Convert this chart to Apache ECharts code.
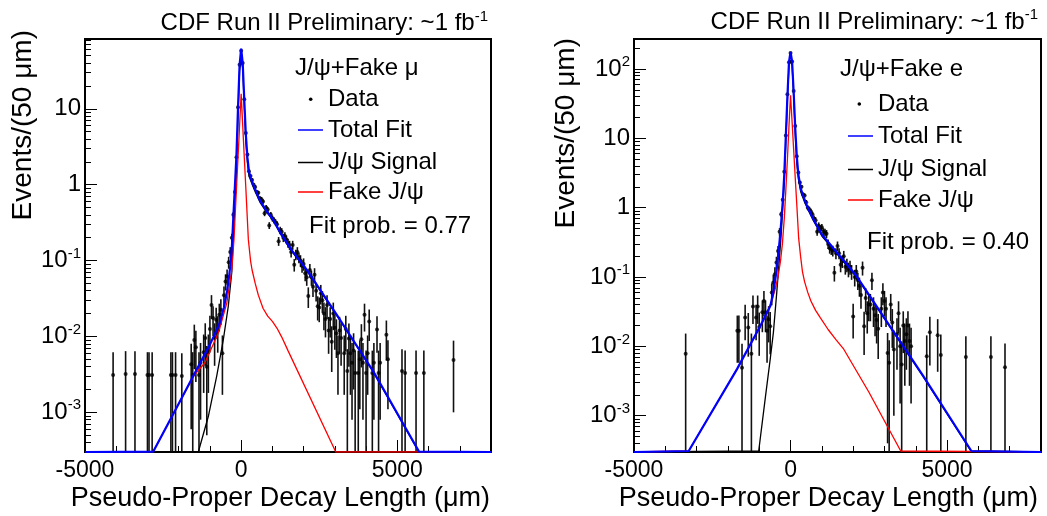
<!DOCTYPE html>
<html><head><meta charset="utf-8">
<script src="https://cdn.jsdelivr.net/npm/echarts@6/dist/echarts.min.js"></script>
<style>html,body{margin:0;padding:0;background:#fff}#c{width:1047px;height:516px}</style>
</head><body><div id="c"></div>
<script>
// ---------- axes ----------
const X_MIN = -5000, X_MAX = 8000;
const Y_MIN = 3e-4;
const Y_MAX_MU = 83, Y_MAX_E = 270;
const X_MAJOR = [-5000, 0, 5000];
const X_MINOR = [-4000, -3000, -2000, -1000, 1000, 2000, 3000, 4000, 6000, 7000];
const Y_MAJOR_MU = [1e-3, 1e-2, 1e-1, 1, 10];
const Y_MAJOR_E = [1e-3, 1e-2, 1e-1, 1, 10, 100];
const Y_MINOR = [4e-4,5e-4,6e-4,7e-4,8e-4,9e-4, 2e-3,3e-3,4e-3,5e-3,6e-3,7e-3,8e-3,9e-3,
  0.02,0.03,0.04,0.05,0.06,0.07,0.08,0.09, 0.2,0.3,0.4,0.5,0.6,0.7,0.8,0.9,
  2,3,4,5,6,7,8,9, 20,30,40,50,60,70,80,90, 200];

// ---------- J/psi + fake mu : data ----------
const muX = [-4100,-3700,-3400,-3000,-2950,-2850,-2250,-2200,-2100,-1900,-1600,-1550,-1500,-1450,-1350,-1300,-1200,-1150,-1100,-1050,-1000,-950,-900,-850,-800,-750,-700,-650,-600,-550,-500,-450,-400,-350,-300,-250,-200,-150,-100,-50,0,50,100,150,200,
  250,300,350,400,450,500,550,600,650,700,750,800,850,900,950,1000,1050,1100,1150,1200,1250,1300,1350,1400,1450,1500,1550,1600,1650,1700,1750,1800,1850,1900,1950,2000,2050,2100,2150,2200,2250,2300,2350,2400,2450,2500,2550,2600,2650,2700,2750,2800,2850,2900,2950,3000,3050,3100,3150,3200,3300,3350,3400,3450,3500,3550,3600,3650,3750,3800,3850,3900,3950,4000,4050,4100,4200,4250,4350,4400,4450,4650,4700,5150,5250,5600,5850,6800];
const muY = [0.0031,0.0032,0.0032,0.0031,0.0031,0.0031,0.0031,0.0031,0.0031,0.003,0.0043,0.0031,0.009,0.0072,0.0031,0.0045,0.0062,0.0095,0.004,0.0062,0.0125,0.026,0.0175,0.0095,0.0166,0.0123,0.0193,0.0225,0.006,0.035,0.053,0.062,0.095,0.13,0.2,0.4,0.8,2.3,10.5,38,58,40,13.3,4.8,2.5,
  1.5,1.3,1.15,1.0,0.93,0.8,0.78,0.66,0.64,0.6,0.42,0.5,0.47,0.29,0.4,0.36,0.34,0.32,0.3,0.18,0.25,0.24,0.2,0.21,0.19,0.17,0.16,0.13,0.16,0.088,0.12,0.13,0.11,0.1,0.085,0.09,0.068,0.06,0.034,0.075,0.06,0.045,0.065,0.04,0.025,0.024,0.037,0.03,0.02,0.017,0.026,0.012,0.017,0.0085,0.02,0.013,0.011,0.006,0.012,0.0095,0.006,0.0125,0.0035,0.0094,0.006,0.0045,0.0065,0.0033,0.0033,0.005,0.0092,0.0045,0.0193,0.0033,0.006,0.0157,0.0033,0.0045,0.0123,0.0033,0.0045,0.0105,0.005,0.0035,0.0033,0.0033,0.0033,0.0049];
const muErr = [0.0031,0.0032,0.0032,0.0031,0.0031,0.0031,0.0031,0.0031,0.0031,0.003,0.0037,0.0031,0.0053,0.0047,0.0031,0.0037,0.0044,0.0054,0.0035,0.0044,0.0062,0.009,0.0074,0.0054,0.0072,0.0062,0.0077,0.0084,0.0043,0.0104,0.0128,0.0139,0.017,0.02,0.025,0.035,0.05,0.085,0.18,0.34,0.42,0.35,0.2,0.12,0.088,
  0.068,0.063,0.06,0.056,0.054,0.05,0.049,0.045,0.045,0.043,0.036,0.039,0.038,0.03,0.035,0.033,0.032,0.031,0.03,0.024,0.028,0.027,0.025,0.025,0.024,0.023,0.022,0.02,0.022,0.0165,0.019,0.02,0.018,0.0176,0.016,0.0167,0.0145,0.0136,0.0103,0.0152,0.0136,0.0118,0.0142,0.0111,0.0088,0.0086,0.0107,0.0096,0.0079,0.0073,0.009,0.0061,0.0073,0.0051,0.0079,0.0063,0.0058,0.0043,0.0061,0.0054,0.0043,0.0062,0.0033,0.0054,0.0043,0.0037,0.0045,0.0032,0.0032,0.0039,0.0053,0.0037,0.0077,0.0032,0.0043,0.007,0.0032,0.0037,0.0062,0.0032,0.0037,0.0057,0.0039,0.0033,0.0032,0.0032,0.0032,0.0039];

// ---------- J/psi + fake mu : fit curves ----------
const muTotal = [[-5000,3e-4],[-2813,3.04e-4],[-2000,0.0013],[-1500,0.0032],[-1000,0.0078],[-700,0.0145],[-550,0.024],[-450,0.04],[-380,0.065],[-330,0.1],[-290,0.17],[-250,0.38],[-200,0.95],[-150,2.5],[-100,10.5],[-50,38],[0,62],[50,40],[100,13],[150,4.6],[200,2.3],[250,1.5],[300,1.25],[400,0.97],[600,0.62],[800,0.46],[1029,0.345],[1244,0.237],[1600,0.14],[2099,0.0757],[3165,0.0166],[4231,0.00346],[5695,3.04e-4],[8000,3e-4]];
const muSignal = [[-5000,3e-4],[-1372,3e-4],[-1052,0.00088],[-783,0.003],[-572,0.009],[-412,0.025],[-300,0.07],[-250,0.2],[-200,0.6],[-150,1.6],[-100,8.2],[-50,32],[0,46],[50,34],[100,10.7],[150,3.7],[200,1.95],[250,1.3],[300,1.15],[400,0.9],[600,0.59],[800,0.44],[1029,0.335],[1244,0.23],[1600,0.135],[2099,0.074],[3165,0.0163],[4231,0.0034],[5690,3e-4],[8000,3e-4]];
const muFake = [[-5000,3e-4],[-2813,3.04e-4],[-2000,0.0013],[-1500,0.0031],[-1160,0.0045],[-730,0.0111],[-460,0.0275],[-300,0.076],[-230,0.19],[-200,0.34],[-150,0.9],[-100,2.3],[-50,6],[0,15.8],[50,6],[100,2.3],[150,0.9],[200,0.34],[230,0.19],[300,0.1],[350,0.075],[450,0.05],[550,0.035],[700,0.0235],[850,0.0185],[1000,0.0158],[1150,0.0128],[1300,0.0098],[1500,0.0065],[3030,3e-4],[8000,3e-4]];

// ---------- J/psi + fake e : data ----------
const eX = [-3350,-1700,-1650,-1550,-1450,-1350,-1250,-1200,-1100,-1050,-1000,-900,-850,-800,-750,-700,-650,-600,-550,-500,-450,-400,-350,-300,-250,-200,-150,-100,-50,0,50,100,150,
  200,250,300,350,400,450,500,550,600,650,700,750,800,850,900,950,1000,1050,1100,1150,1200,1250,1300,1350,1400,1450,1500,1550,1600,1650,1700,1750,1800,1850,1900,1950,2000,2050,2100,2150,2200,2250,2300,2350,2400,2450,2500,2550,2600,2650,2700,2750,2800,2900,2950,3000,3050,3100,3150,3200,3250,3300,3400,3450,3500,3550,3600,3650,3700,3750,3800,3850,4350,4450,4700,4800,5600,6400,6850];
const eY = [0.0078,0.0168,0.0168,0.0049,0.026,0.0187,0.0078,0.0376,0.026,0.0376,0.019,0.031,0.045,0.031,0.0168,0.0247,0.0195,0.06,0.083,0.11,0.162,0.238,0.45,0.8,1.3,3.3,11,43,125,170,128,48,15,
  5.5,3.2,2.3,2.0,1.55,1.5,1.2,1.0,0.95,0.88,0.8,0.7,0.66,0.45,0.55,0.5,0.52,0.45,0.44,0.42,0.3,0.26,0.25,0.24,0.115,0.22,0.28,0.22,0.15,0.17,0.2,0.14,0.15,0.13,0.14,0.12,0.027,0.1,0.12,0.09,0.075,0.055,0.136,0.0195,0.05,0.03,0.04,0.04,0.09,0.035,0.028,0.024,0.018,0.035,0.06,0.045,0.035,0.008,0.0058,0.04,0.022,0.009,0.015,0.03,0.01,0.0055,0.02,0.012,0.015,0.02,0.012,0.01,0.0072,0.016,0.0145,0.0075,0.007,0.007,0.005];
const eErr = [0.0075,0.011,0.011,0.006,0.0137,0.0116,0.0075,0.0165,0.0137,0.0165,0.0117,0.015,0.018,0.015,0.011,0.0133,0.0118,0.021,0.0244,0.028,0.034,0.041,0.057,0.076,0.097,0.154,0.28,0.56,0.95,1.1,0.96,0.59,0.33,
  0.2,0.15,0.13,0.12,0.105,0.1,0.093,0.085,0.083,0.08,0.076,0.071,0.069,0.057,0.063,0.06,0.061,0.057,0.056,0.055,0.046,0.043,0.042,0.042,0.029,0.04,0.045,0.04,0.033,0.035,0.038,0.032,0.033,0.031,0.032,0.029,0.014,0.027,0.029,0.025,0.023,0.02,0.031,0.012,0.019,0.0147,0.017,0.017,0.025,0.016,0.014,0.013,0.0114,0.016,0.021,0.018,0.016,0.0076,0.0065,0.017,0.0125,0.008,0.0104,0.0147,0.0085,0.0063,0.012,0.0093,0.0104,0.012,0.0093,0.0085,0.0072,0.0107,0.0102,0.0073,0.007,0.007,0.006];

// ---------- J/psi + fake e : fit curves ----------
const eTotal = [[-5000,3e-4],[-3253,3.1e-4],[-1710,0.0047],[-963,0.0198],[-643,0.0384],[-550,0.06],[-450,0.12],[-400,0.19],[-350,0.33],[-300,0.6],[-250,1.2],[-200,3.0],[-150,11],[-100,40],[-50,125],[0,176],[50,128],[100,46],[150,14],[200,5.5],[250,3.0],[324,1.9],[450,1.3],[530,1.05],[700,0.72],[1000,0.41],[1500,0.22],[2103,0.104],[3167,0.0198],[4231,0.00378],[5777,3.1e-4],[8000,3e-4]];
const eSignal = [[-5000,3e-4],[-1017,3.1e-4],[-800,0.0019],[-650,0.0065],[-548,0.0158],[-440,0.06],[-350,0.2],[-300,0.4],[-250,1.0],[-200,2.2],[-150,9],[-100,35],[-50,110],[0,134],[50,111],[100,40],[150,11.5],[200,4.4],[250,2.6],[324,1.7],[450,1.2],[530,1.0],[700,0.69],[1000,0.39],[1500,0.21],[2103,0.1],[3167,0.0192],[4231,0.0037],[5760,3.1e-4],[8000,3e-4]];
const eFake = [[-5000,3e-4],[-3253,3.1e-4],[-1710,0.0047],[-963,0.0195],[-750,0.03],[-600,0.045],[-480,0.07],[-400,0.1],[-320,0.17],[-260,0.3],[-200,0.7],[-150,1.8],[-100,5],[-50,15],[0,41.7],[50,17],[100,6.8],[150,2.7],[200,1.1],[260,0.36],[320,0.2],[380,0.12],[450,0.085],[550,0.06],[650,0.045],[800,0.033],[950,0.026],[1200,0.0175],[1450,0.0125],[1700,0.0091],[2500,0.0022],[3520,3.1e-4],[8000,3e-4]];

// ---------- texts ----------
const HEADER = 'CDF Run II Preliminary: ~1 fb';
const HEADER_SUP = '-1';
const Y_TITLE = 'Events/(50 \u03bcm)';
const X_TITLE = 'Pseudo-Proper Decay Length (\u03bcm)';
const MU_LABELS = ['J/\u03c8+Fake \u03bc', 'Data', 'Total Fit', 'J/\u03c8 Signal', 'Fake J/\u03c8', 'Fit prob. = 0.77'];
const E_LABELS = ['J/\u03c8+Fake e', 'Data', 'Total Fit', 'J/\u03c8 Signal', 'Fake J/\u03c8', 'Fit prob. = 0.40'];

const FONT = '"Liberation Sans", Arial, Helvetica, sans-serif';
const BLUE = '#0000ff', RED = '#ff0000', BLACK = '#000000';
const LEG_FS = 24;

function rows(xs, ys, es) { return xs.map((x, i) => [x, ys[i], es[i]]); }

function yFmt(v) {
  const e = Math.round(Math.log10(v));
  if (e === 0) return '1';
  if (e === 1) return '10';
  return '{b|10}{s|' + e + '}';
}

const grids = [
  { left: 85, top: 39, width: 406, height: 413 },
  { left: 634, top: 39, width: 407, height: 413 }
].map(g => Object.assign(g, { show: true, borderColor: '#000', borderWidth: 2, backgroundColor: 'rgba(0,0,0,0)', containLabel: false }));

const xAxes = [], yAxes = [];
[0, 1].forEach(g => {
  xAxes.push({ gridIndex: g, type: 'value', position: 'bottom', min: X_MIN, max: X_MAX,
    axisLine: { show: false, onZero: false },
    axisTick: { show: true, inside: true, length: 12, customValues: X_MAJOR, lineStyle: { color: '#000', width: 1 } },
    axisLabel: { show: true, customValues: X_MAJOR, formatter: v => String(v), fontSize: 23, color: '#000', margin: 7, fontFamily: FONT },
    splitLine: { show: false } });
  xAxes.push({ gridIndex: g, type: 'value', position: 'bottom', min: X_MIN, max: X_MAX,
    axisLine: { show: false, onZero: false },
    axisTick: { show: true, inside: true, length: 6, customValues: X_MINOR, lineStyle: { color: '#000', width: 1 } },
    axisLabel: { show: false }, splitLine: { show: false } });
  const ymax = g === 0 ? Y_MAX_MU : Y_MAX_E;
  const ymaj = g === 0 ? Y_MAJOR_MU : Y_MAJOR_E;
  yAxes.push({ gridIndex: g, type: 'log', logBase: 10, position: 'left', min: Y_MIN, max: ymax,
    axisLine: { show: false, onZero: false },
    axisTick: { show: true, inside: true, length: 12, customValues: ymaj, lineStyle: { color: '#000', width: 1 } },
    axisLabel: { show: true, customValues: ymaj, formatter: yFmt, color: '#000', margin: 4, fontSize: 24, fontFamily: FONT,
      rich: { b: { fontSize: 24, fontFamily: FONT, color: '#000' }, s: { fontSize: 15, fontFamily: FONT, color: '#000', padding: [0, 0, 14, 0] } } },
    splitLine: { show: false } });
  yAxes.push({ gridIndex: g, type: 'log', logBase: 10, position: 'left', min: Y_MIN, max: ymax,
    axisLine: { show: false, onZero: false },
    axisTick: { show: true, inside: true, length: 6, customValues: Y_MINOR, lineStyle: { color: '#000', width: 1 } },
    axisLabel: { show: false }, splitLine: { show: false } });
});

function errSeries(g, data) {
  return { type: 'custom', xAxisIndex: g * 2, yAxisIndex: g * 2, data: data, z: 2, clip: true, silent: true,
    encode: { x: 0, y: 1 },
    renderItem: function (params, api) {
      const x = api.value(0), y = api.value(1), e = api.value(2);
      const lo = Math.max(y - e, Y_MIN);
      const p1 = api.coord([x, y + e]);
      const p2 = api.coord([x, lo]);
      return { type: 'line', shape: { x1: p1[0], y1: p1[1], x2: p2[0], y2: p2[1] },
        style: { stroke: '#111', lineWidth: 1.6 } };
    } };
}
function ptSeries(g, data) {
  return { type: 'scatter', xAxisIndex: g * 2, yAxisIndex: g * 2, data: data.map(r => [r[0], r[1]]),
    symbol: 'circle', symbolSize: 4, itemStyle: { color: '#000' }, z: 3, silent: true };
}
function lineSeries(g, pts, color, width, z) {
  return { type: 'line', xAxisIndex: g * 2, yAxisIndex: g * 2, data: pts, showSymbol: false, symbol: 'none',
    lineStyle: { color: color, width: width }, z: z, silent: true, clip: true };
}

const muRows = rows(muX, muY, muErr);
const eRows = rows(eX, eY, eErr);

const series = [
  errSeries(0, muRows), ptSeries(0, muRows),
  lineSeries(0, muSignal, BLACK, 1.3, 4), lineSeries(0, muFake, RED, 1.3, 5), lineSeries(0, muTotal, BLUE, 2.2, 6),
  errSeries(1, eRows), ptSeries(1, eRows),
  lineSeries(1, eSignal, BLACK, 1.3, 4), lineSeries(1, eFake, RED, 1.3, 5), lineSeries(1, eTotal, BLUE, 2.2, 6)
];

function txt(x, y, text, size, extra) {
  return Object.assign({ type: 'text', x: x, y: y, z: 100,
    style: Object.assign({ text: text, fontSize: size, fontFamily: FONT, fill: '#000', align: 'left', verticalAlign: 'middle' }, extra || {}) });
}
function seg(x1, x2, y, color) {
  return { type: 'line', z: 100, shape: { x1: x1, y1: y, x2: x2, y2: y }, style: { stroke: color, lineWidth: 1.5 } };
}
function legend(L, o) {
  return [
    txt(o.x0, o.y[0], L[0], LEG_FS),
    { type: 'circle', z: 100, shape: { cx: o.dot, cy: o.y[1], r: 1.8 }, style: { fill: '#000' } },
    txt(o.x1, o.y[1], L[1], LEG_FS),
    seg(o.lx1, o.lx2, o.y[2], BLUE), txt(o.x1, o.y[2], L[2], LEG_FS),
    seg(o.lx1, o.lx2, o.y[3], BLACK), txt(o.x1, o.y[3], L[3], LEG_FS),
    seg(o.lx1, o.lx2, o.y[4], RED), txt(o.x1, o.y[4], L[4], LEG_FS),
    txt(o.xp, o.y[5], L[5], LEG_FS)
  ];
}
function header(xr, y) {
  return { type: 'text', x: xr, y: y, z: 100,
    style: { text: '{a|' + HEADER + '}{s|' + HEADER_SUP + '}', align: 'right', verticalAlign: 'middle',
      rich: { a: { fontSize: 24, fontFamily: FONT, fill: '#000', color: '#000' },
              s: { fontSize: 15, fontFamily: FONT, fill: '#000', color: '#000', padding: [0, 0, 14, 0] } } } };
}
function yTitle(x, yTop) {
  return { type: 'text', x: x, y: yTop, rotation: Math.PI / 2, z: 100,
    style: { text: Y_TITLE, fontSize: 28, fontFamily: FONT, fill: '#000', align: 'right', verticalAlign: 'middle' } };
}

const graphic = [].concat(
  legend(MU_LABELS, { x0: 295, dot: 310.7, x1: 328, lx1: 298, lx2: 323, xp: 309, y: [68.5, 99.3, 130, 162.5, 192, 226] }),
  legend(E_LABELS, { x0: 840, dot: 859.3, x1: 878, lx1: 848, lx2: 873, xp: 867, y: [69, 104, 136, 169.5, 200, 242] }),
  [header(488, 23.5), header(1038, 22),
   yTitle(23, 30), yTitle(566, 38),
   txt(490, 498.5, X_TITLE, 27, { align: 'right' }),
   txt(1038, 498.5, X_TITLE, 27, { align: 'right' })]
);

const chart = echarts.init(document.getElementById('c'), null, { renderer: 'canvas' });
chart.setOption({
  animation: false,
  backgroundColor: '#fff',
  textStyle: { fontFamily: FONT },
  grid: grids,
  xAxis: xAxes,
  yAxis: yAxes,
  series: series,
  graphic: graphic
});
</script>
</body></html>
